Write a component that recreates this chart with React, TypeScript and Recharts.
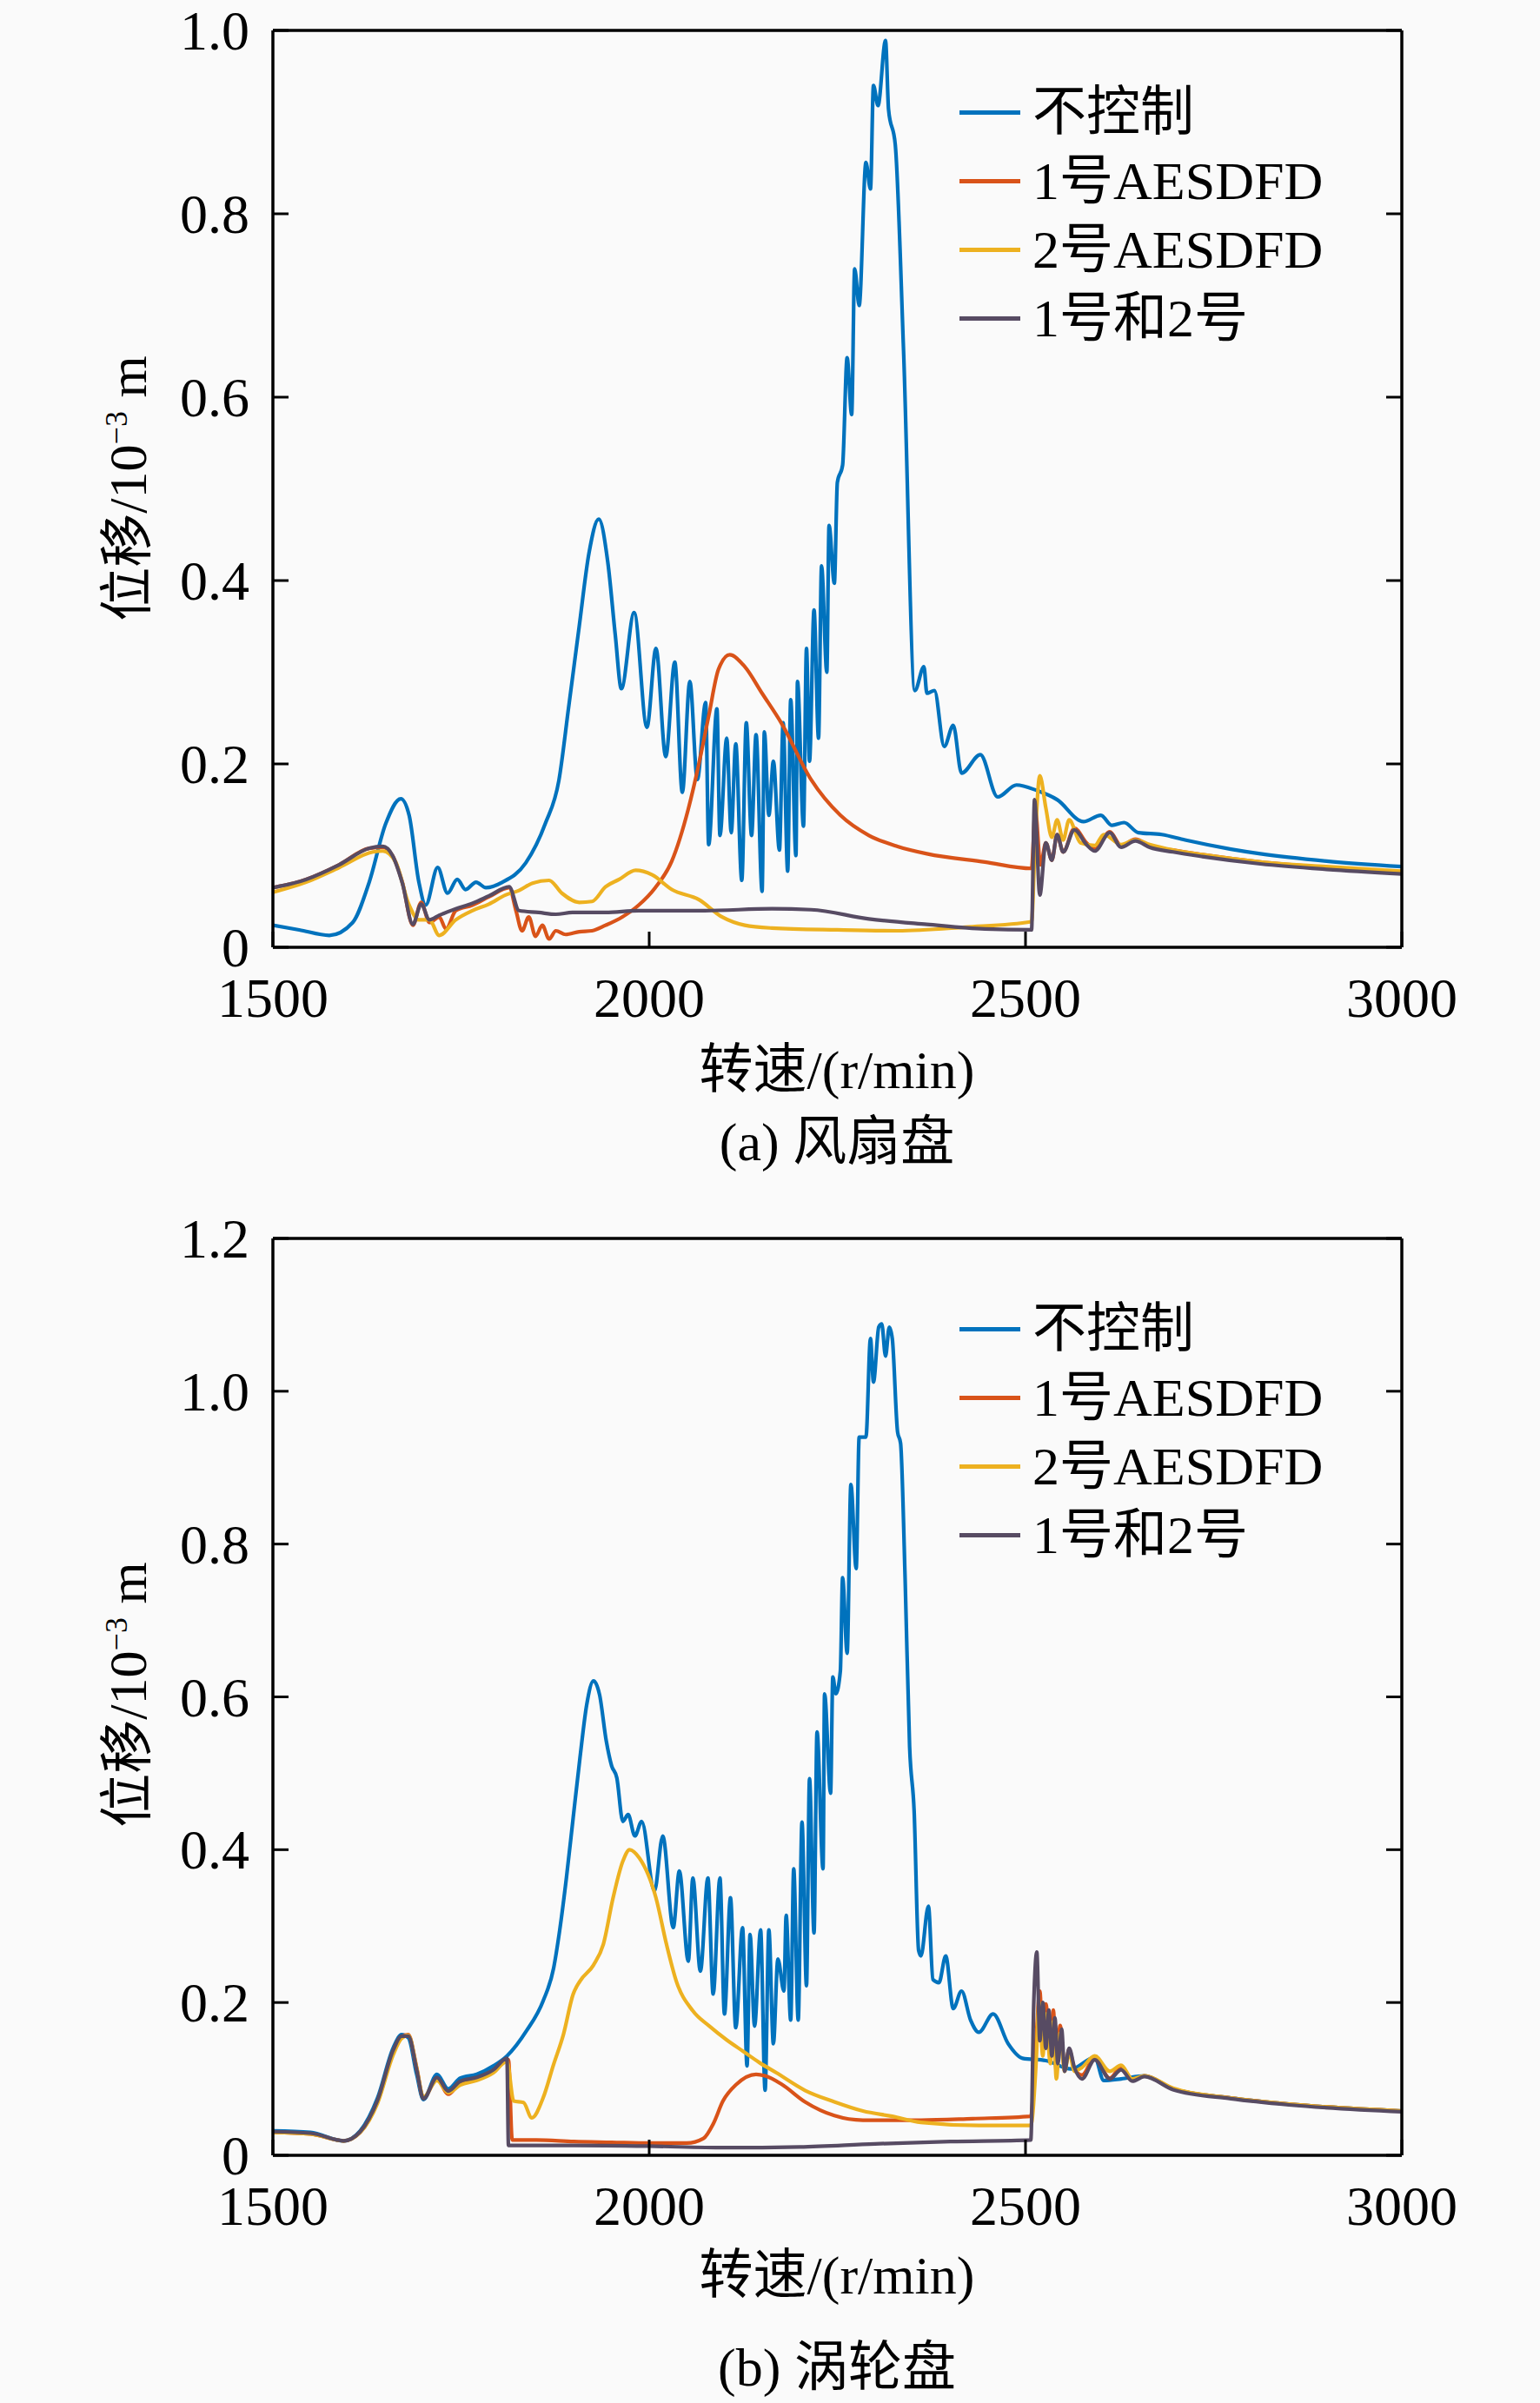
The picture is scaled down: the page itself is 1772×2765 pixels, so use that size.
import { LineChart, Line, XAxis, YAxis, Legend } from "recharts";

type Pt = [number, number];

const rpmTicks = [1500, 2000, 2500, 3000];
const fanDispTicks = [0, 0.2, 0.4, 0.6, 0.8, 1.0];
const turbineDispTicks = [0, 0.2, 0.4, 0.6, 0.8, 1.0, 1.2];
const seriesNames = ["不控制", "1号AESDFD", "2号AESDFD", "1号和2号"];
const seriesColors = ["#0072BD", "#D95319", "#EDB120", "#574b63"];

// (a) 风扇盘 — [rpm, displacement ×10^-3 m]
const fanNone: Pt[] = [
  [1500, 0.024], [1535, 0.019], [1575, 0.013], [1606, 0.027], [1628, 0.071], [1650, 0.135],
  [1670, 0.162], [1681, 0.144], [1694, 0.071], [1703, 0.046], [1719, 0.087], [1732, 0.059],
  [1745, 0.074], [1756, 0.063], [1770, 0.071], [1783, 0.065], [1805, 0.071], [1836, 0.092],
  [1862, 0.135], [1880, 0.182], [1893, 0.262], [1907, 0.35], [1920, 0.43], [1933, 0.467],
  [1945, 0.42], [1955, 0.34], [1963, 0.282], [1980, 0.365], [1997, 0.24], [2009, 0.326],
  [2022, 0.208], [2034, 0.311], [2044, 0.169], [2054, 0.29], [2064, 0.183], [2075, 0.267],
  [2079, 0.112], [2090, 0.26], [2094, 0.122], [2103, 0.228], [2109, 0.125], [2115, 0.222],
  [2123, 0.073], [2129, 0.245], [2136, 0.122], [2142, 0.232], [2150, 0.061], [2153, 0.235],
  [2159, 0.144], [2165, 0.203], [2173, 0.106], [2178, 0.245], [2184, 0.083], [2188, 0.27],
  [2195, 0.1], [2197, 0.29], [2205, 0.132], [2209, 0.326], [2213, 0.203], [2219, 0.368],
  [2225, 0.228], [2229, 0.416], [2236, 0.3], [2239, 0.46], [2246, 0.397], [2250, 0.507],
  [2257, 0.526], [2263, 0.643], [2269, 0.581], [2273, 0.74], [2279, 0.7], [2288, 0.856],
  [2294, 0.827], [2298, 0.94], [2304, 0.918], [2314, 0.989], [2318, 0.914], [2327, 0.875],
  [2338, 0.65], [2353, 0.28], [2365, 0.306], [2369, 0.277], [2379, 0.28], [2392, 0.219],
  [2404, 0.242], [2415, 0.19], [2440, 0.21], [2463, 0.164], [2488, 0.177], [2515, 0.171],
  [2542, 0.161], [2577, 0.137], [2600, 0.144], [2615, 0.133], [2631, 0.136], [2650, 0.125],
  [2681, 0.123], [2712, 0.117], [2773, 0.107], [2812, 0.102], [2900, 0.094], [3000, 0.088],
];

const fanDamper1: Pt[] = [
  [1500, 0.065], [1544, 0.074], [1588, 0.09], [1628, 0.108], [1646, 0.109], [1659, 0.1],
  [1672, 0.071], [1686, 0.024], [1697, 0.049], [1708, 0.027], [1721, 0.033], [1730, 0.02],
  [1743, 0.04], [1765, 0.046], [1787, 0.055], [1814, 0.065], [1823, 0.04], [1831, 0.018],
  [1840, 0.033], [1849, 0.012], [1858, 0.024], [1867, 0.009], [1876, 0.018], [1889, 0.014],
  [1907, 0.017], [1924, 0.018], [1942, 0.024], [1964, 0.033], [1986, 0.046], [2008, 0.065],
  [2030, 0.094], [2052, 0.151], [2066, 0.2], [2079, 0.252], [2092, 0.303], [2107, 0.319],
  [2127, 0.306], [2150, 0.277], [2176, 0.244], [2215, 0.183], [2254, 0.144], [2292, 0.122],
  [2330, 0.11], [2369, 0.102], [2446, 0.093], [2508, 0.086], [2513, 0.15], [2520, 0.09],
  [2527, 0.114], [2535, 0.095], [2542, 0.123], [2550, 0.104], [2565, 0.13], [2581, 0.114],
  [2592, 0.107], [2612, 0.126], [2627, 0.111], [2646, 0.118], [2665, 0.111], [2696, 0.106],
  [2735, 0.101], [2812, 0.093], [2900, 0.087], [3000, 0.082],
];

const fanDamper2: Pt[] = [
  [1500, 0.06], [1544, 0.071], [1588, 0.087], [1633, 0.104], [1646, 0.105], [1663, 0.093],
  [1681, 0.046], [1694, 0.03], [1708, 0.03], [1721, 0.013], [1743, 0.03], [1765, 0.04],
  [1787, 0.047], [1809, 0.057], [1827, 0.062], [1845, 0.07], [1867, 0.073], [1884, 0.059],
  [1907, 0.049], [1924, 0.05], [1942, 0.066], [1960, 0.074], [1982, 0.084], [2004, 0.079],
  [2030, 0.063], [2066, 0.052], [2097, 0.033], [2127, 0.024], [2163, 0.021], [2250, 0.019],
  [2330, 0.018], [2420, 0.022], [2508, 0.028], [2513, 0.12], [2519, 0.187], [2527, 0.152],
  [2535, 0.12], [2542, 0.139], [2550, 0.117], [2558, 0.139], [2573, 0.114], [2592, 0.111],
  [2604, 0.123], [2627, 0.112], [2646, 0.117], [2665, 0.112], [2696, 0.106], [2735, 0.101],
  [2812, 0.093], [2900, 0.088], [3000, 0.083],
];

const fanBoth: Pt[] = [
  [1500, 0.065], [1544, 0.074], [1588, 0.09], [1628, 0.108], [1646, 0.11], [1659, 0.1],
  [1672, 0.07], [1686, 0.025], [1697, 0.047], [1708, 0.03], [1721, 0.035], [1743, 0.042],
  [1765, 0.048], [1787, 0.056], [1814, 0.066], [1827, 0.04], [1853, 0.038], [1876, 0.036],
  [1898, 0.038], [1942, 0.038], [1986, 0.04], [2074, 0.04], [2163, 0.042], [2215, 0.041],
  [2292, 0.031], [2369, 0.025], [2446, 0.02], [2508, 0.019], [2512, 0.161], [2519, 0.057],
  [2527, 0.114], [2535, 0.095], [2542, 0.123], [2550, 0.104], [2565, 0.128], [2581, 0.112],
  [2592, 0.105], [2612, 0.125], [2627, 0.109], [2646, 0.116], [2665, 0.109], [2696, 0.104],
  [2735, 0.099], [2812, 0.091], [2900, 0.085], [3000, 0.08],
];

// (b) 涡轮盘
const turbineNone: Pt[] = [
  [1500, 0.032], [1550, 0.03], [1594, 0.019], [1616, 0.032], [1639, 0.075], [1660, 0.141],
  [1671, 0.158], [1680, 0.154], [1691, 0.106], [1700, 0.073], [1718, 0.106], [1733, 0.087],
  [1749, 0.101], [1771, 0.106], [1793, 0.117], [1811, 0.13], [1837, 0.163], [1859, 0.202],
  [1873, 0.245], [1881, 0.294], [1890, 0.363], [1899, 0.442], [1908, 0.52], [1917, 0.59],
  [1926, 0.621], [1934, 0.603], [1943, 0.542], [1950, 0.51], [1957, 0.494], [1965, 0.437],
  [1972, 0.446], [1981, 0.418], [1990, 0.437], [2007, 0.346], [2018, 0.418], [2032, 0.298],
  [2040, 0.372], [2052, 0.254], [2058, 0.363], [2068, 0.241], [2078, 0.363], [2085, 0.211],
  [2094, 0.363], [2100, 0.185], [2108, 0.337], [2115, 0.167], [2124, 0.298], [2130, 0.117],
  [2134, 0.289], [2140, 0.169], [2148, 0.295], [2154, 0.085], [2159, 0.295], [2165, 0.146],
  [2171, 0.257], [2179, 0.215], [2182, 0.314], [2188, 0.177], [2192, 0.375], [2198, 0.177],
  [2203, 0.436], [2209, 0.222], [2213, 0.493], [2219, 0.291], [2223, 0.554], [2231, 0.375],
  [2233, 0.604], [2241, 0.474], [2244, 0.626], [2248, 0.604], [2254, 0.634], [2257, 0.756],
  [2263, 0.657], [2268, 0.878], [2275, 0.768], [2279, 0.94], [2288, 0.94], [2294, 1.069],
  [2298, 1.012], [2305, 1.084], [2309, 1.088], [2314, 1.046], [2319, 1.084], [2323, 1.069],
  [2330, 0.947], [2334, 0.932], [2340, 0.756], [2346, 0.535], [2352, 0.451], [2358, 0.268],
  [2361, 0.261], [2371, 0.326], [2377, 0.23], [2385, 0.226], [2394, 0.261], [2404, 0.192],
  [2415, 0.215], [2427, 0.177], [2438, 0.161], [2457, 0.185], [2477, 0.146], [2496, 0.127],
  [2527, 0.124], [2561, 0.113], [2592, 0.128], [2604, 0.098], [2627, 0.1], [2658, 0.104],
  [2696, 0.087], [2773, 0.075], [2850, 0.067], [3000, 0.058],
];

const turbineDamper1: Pt[] = [
  [1500, 0.03], [1550, 0.028], [1594, 0.019], [1616, 0.03], [1639, 0.07], [1660, 0.135],
  [1671, 0.155], [1680, 0.158], [1691, 0.115], [1700, 0.075], [1718, 0.1], [1733, 0.08],
  [1749, 0.095], [1771, 0.1], [1793, 0.11], [1813, 0.125], [1818, 0.02], [1850, 0.02],
  [1900, 0.018], [1950, 0.017], [2000, 0.016], [2050, 0.016], [2072, 0.022], [2085, 0.041],
  [2098, 0.071], [2116, 0.093], [2142, 0.106], [2154, 0.104], [2176, 0.093], [2207, 0.07],
  [2246, 0.052], [2284, 0.046], [2361, 0.046], [2430, 0.048], [2507, 0.051], [2514, 0.15],
  [2519, 0.215], [2523, 0.147], [2527, 0.198], [2533, 0.139], [2537, 0.19], [2541, 0.109],
  [2546, 0.17], [2552, 0.113], [2558, 0.139], [2565, 0.113], [2575, 0.105], [2592, 0.128],
  [2612, 0.101], [2627, 0.115], [2642, 0.098], [2658, 0.104], [2696, 0.087], [2773, 0.075],
  [2850, 0.067], [3000, 0.058],
];

const turbineDamper2: Pt[] = [
  [1500, 0.03], [1550, 0.028], [1594, 0.019], [1616, 0.03], [1639, 0.068], [1660, 0.132],
  [1671, 0.153], [1680, 0.157], [1691, 0.114], [1700, 0.076], [1718, 0.098], [1733, 0.082],
  [1749, 0.092], [1771, 0.098], [1793, 0.108], [1811, 0.123], [1820, 0.071], [1833, 0.069],
  [1844, 0.049], [1859, 0.075], [1873, 0.119], [1886, 0.158], [1899, 0.211], [1908, 0.228],
  [1926, 0.249], [1939, 0.276], [1952, 0.337], [1965, 0.385], [1974, 0.4], [1987, 0.389],
  [2009, 0.337], [2023, 0.276], [2036, 0.228], [2058, 0.189], [2080, 0.169], [2103, 0.151],
  [2125, 0.136], [2147, 0.121], [2169, 0.108], [2207, 0.085], [2246, 0.07], [2284, 0.058],
  [2323, 0.051], [2361, 0.043], [2438, 0.039], [2507, 0.039], [2514, 0.12], [2518, 0.2],
  [2523, 0.13], [2527, 0.185], [2533, 0.12], [2537, 0.175], [2541, 0.1], [2546, 0.16],
  [2552, 0.11], [2558, 0.135], [2565, 0.11], [2575, 0.115], [2592, 0.13], [2612, 0.11],
  [2627, 0.118], [2642, 0.1], [2658, 0.104], [2696, 0.088], [2773, 0.075], [2850, 0.067],
  [3000, 0.058],
];

const turbineBoth: Pt[] = [
  [1500, 0.031], [1550, 0.029], [1594, 0.019], [1616, 0.031], [1639, 0.072], [1660, 0.138],
  [1671, 0.156], [1680, 0.156], [1691, 0.112], [1700, 0.074], [1718, 0.102], [1733, 0.084],
  [1749, 0.097], [1771, 0.102], [1793, 0.112], [1811, 0.127], [1813, 0.013], [1900, 0.013],
  [2000, 0.012], [2100, 0.01], [2200, 0.011], [2300, 0.015], [2400, 0.018], [2507, 0.02],
  [2511, 0.2], [2515, 0.266], [2519, 0.15], [2523, 0.2], [2527, 0.14], [2531, 0.19],
  [2535, 0.13], [2539, 0.18], [2543, 0.12], [2548, 0.165], [2552, 0.11], [2558, 0.14],
  [2565, 0.115], [2575, 0.1], [2592, 0.125], [2612, 0.1], [2627, 0.112], [2642, 0.097],
  [2658, 0.103], [2696, 0.086], [2773, 0.074], [2850, 0.066], [3000, 0.057],
];

const FONT = '"Liberation Serif", "Times New Roman", "Noto Sans CJK SC", serif';
const TICK_LEN = 18;
const AXIS_STROKE = { stroke: "#000", strokeWidth: 3.5 };

const fmtDisp = (v: number) => (v === 0 ? "0" : v.toFixed(1));

function BottomTick({ x, y, payload }: any) {
  return (
    <g>
      <line x1={x} x2={x} y1={y} y2={y - TICK_LEN} stroke="#000" strokeWidth={3} />
      <text x={x} y={y + 80} textAnchor="middle" fontSize={64} fontFamily={FONT} fill="#000">
        {payload.value}
      </text>
    </g>
  );
}

function TopTick({ x, y }: any) {
  return <line x1={x} x2={x} y1={y} y2={y + TICK_LEN} stroke="#000" strokeWidth={3} />;
}

function LeftTick({ x, y, payload }: any) {
  return (
    <g>
      <line x1={x} x2={x + TICK_LEN} y1={y} y2={y} stroke="#000" strokeWidth={3} />
      <text x={x - 27} y={y + 22} textAnchor="end" fontSize={64} fontFamily={FONT} fill="#000">
        {fmtDisp(payload.value)}
      </text>
    </g>
  );
}

function RightTick({ x, y }: any) {
  return <line x1={x} x2={x - TICK_LEN} y1={y} y2={y} stroke="#000" strokeWidth={3} />;
}

function LegendRows({ payload }: any) {
  const rows = [...(payload ?? [])].sort(
    (a: any, b: any) => seriesNames.indexOf(a.value) - seriesNames.indexOf(b.value)
  );
  return (
    <div>
      {rows.map((e: any) => (
        <div key={e.value} style={{ display: "flex", alignItems: "center", height: 79 }}>
          <div style={{ width: 70, height: 5, background: e.color, marginRight: 14 }} />
          <span
            style={{
              fontFamily: FONT,
              fontSize: 62,
              lineHeight: "79px",
              color: "#000",
              whiteSpace: "nowrap",
            }}
          >
            {e.value}
          </span>
        </div>
      ))}
    </div>
  );
}

interface DispChartProps {
  series: Pt[][];
  yMax: number;
  yTicks: number[];
  legendTop: number;
}

function DisplacementChart({ series, yMax, yTicks, legendTop }: DispChartProps) {
  return (
    <LineChart width={1772} height={1380} margin={{ top: 25, right: 149, bottom: 0, left: 0 }}>
      <XAxis
        xAxisId="b"
        dataKey="rpm"
        type="number"
        domain={[1500, 3000]}
        ticks={rpmTicks}
        interval={0}
        allowDataOverflow
        height={290}
        tickSize={0}
        tickMargin={0}
        tickLine={false}
        axisLine={AXIS_STROKE}
        tick={(p: any) => <BottomTick {...p} />}
      />
      <XAxis
        xAxisId="t"
        orientation="top"
        type="number"
        domain={[1500, 3000]}
        ticks={rpmTicks}
        interval={0}
        allowDataOverflow
        height={10}
        tickSize={0}
        tickMargin={0}
        tickLine={false}
        axisLine={AXIS_STROKE}
        tick={(p: any) => <TopTick {...p} />}
      />
      <YAxis
        yAxisId="l"
        type="number"
        domain={[0, yMax]}
        ticks={yTicks}
        interval={0}
        allowDataOverflow
        width={314}
        tickSize={0}
        tickMargin={0}
        tickLine={false}
        axisLine={AXIS_STROKE}
        tick={(p: any) => <LeftTick {...p} />}
      />
      <YAxis
        yAxisId="r"
        orientation="right"
        type="number"
        domain={[0, yMax]}
        ticks={yTicks}
        interval={0}
        allowDataOverflow
        width={10}
        tickSize={0}
        tickMargin={0}
        tickLine={false}
        axisLine={AXIS_STROKE}
        tick={(p: any) => <RightTick {...p} />}
      />
      {series.map((pts, i) => (
        <Line
          key={seriesNames[i]}
          xAxisId="b"
          yAxisId="l"
          data={pts.map(([rpm, v]) => ({ rpm, v }))}
          dataKey="v"
          name={seriesNames[i]}
          type="monotone"
          stroke={seriesColors[i]}
          strokeWidth={4.2}
          dot={false}
          activeDot={false}
          isAnimationActive={false}
        />
      ))}
      <Legend
        layout="vertical"
        align="center"
        verticalAlign="middle"
        content={(p: any) => <LegendRows {...p} />}
        wrapperStyle={{ left: 1104, top: legendTop, width: "auto", height: "auto" }}
      />
    </LineChart>
  );
}

const textBase: React.CSSProperties = {
  position: "absolute",
  fontFamily: FONT,
  fontSize: 62,
  color: "#000",
  whiteSpace: "nowrap",
  transform: "translate(-50%, -50%)",
  lineHeight: 1,
};

function YTitle({ cy }: { cy: number }) {
  return (
    <div style={{ ...textBase, left: 147, top: cy, transform: "translate(-50%, -50%) rotate(-90deg)" }}>
      位移/10<sup style={{ fontSize: 36, verticalAlign: "super", lineHeight: 0 }}>−3</sup> m
    </div>
  );
}

export default function App() {
  return (
    <div
      style={{
        position: "absolute",
        left: 0,
        top: 0,
        width: 1772,
        height: 2765,
        background: "#fafafa",
        overflow: "hidden",
      }}
    >
      <div style={{ position: "absolute", left: 0, top: 0 }}>
        <DisplacementChart
          series={[fanNone, fanDamper1, fanDamper2, fanBoth]}
          yMax={1.0}
          yTicks={fanDispTicks}
          legendTop={90}
        />
      </div>
      <div style={{ position: "absolute", left: 0, top: 1390 }}>
        <DisplacementChart
          series={[turbineNone, turbineDamper1, turbineDamper2, turbineBoth]}
          yMax={1.2}
          yTicks={turbineDispTicks}
          legendTop={100}
        />
      </div>
      <YTitle cy={562} />
      <YTitle cy={1950} />
      <div style={{ ...textBase, left: 963, top: 1231 }}>转速/(r/min)</div>
      <div style={{ ...textBase, left: 963, top: 1314 }}>(a) 风扇盘</div>
      <div style={{ ...textBase, left: 963, top: 2618 }}>转速/(r/min)</div>
      <div style={{ ...textBase, left: 963, top: 2724 }}>(b) 涡轮盘</div>
    </div>
  );
}
